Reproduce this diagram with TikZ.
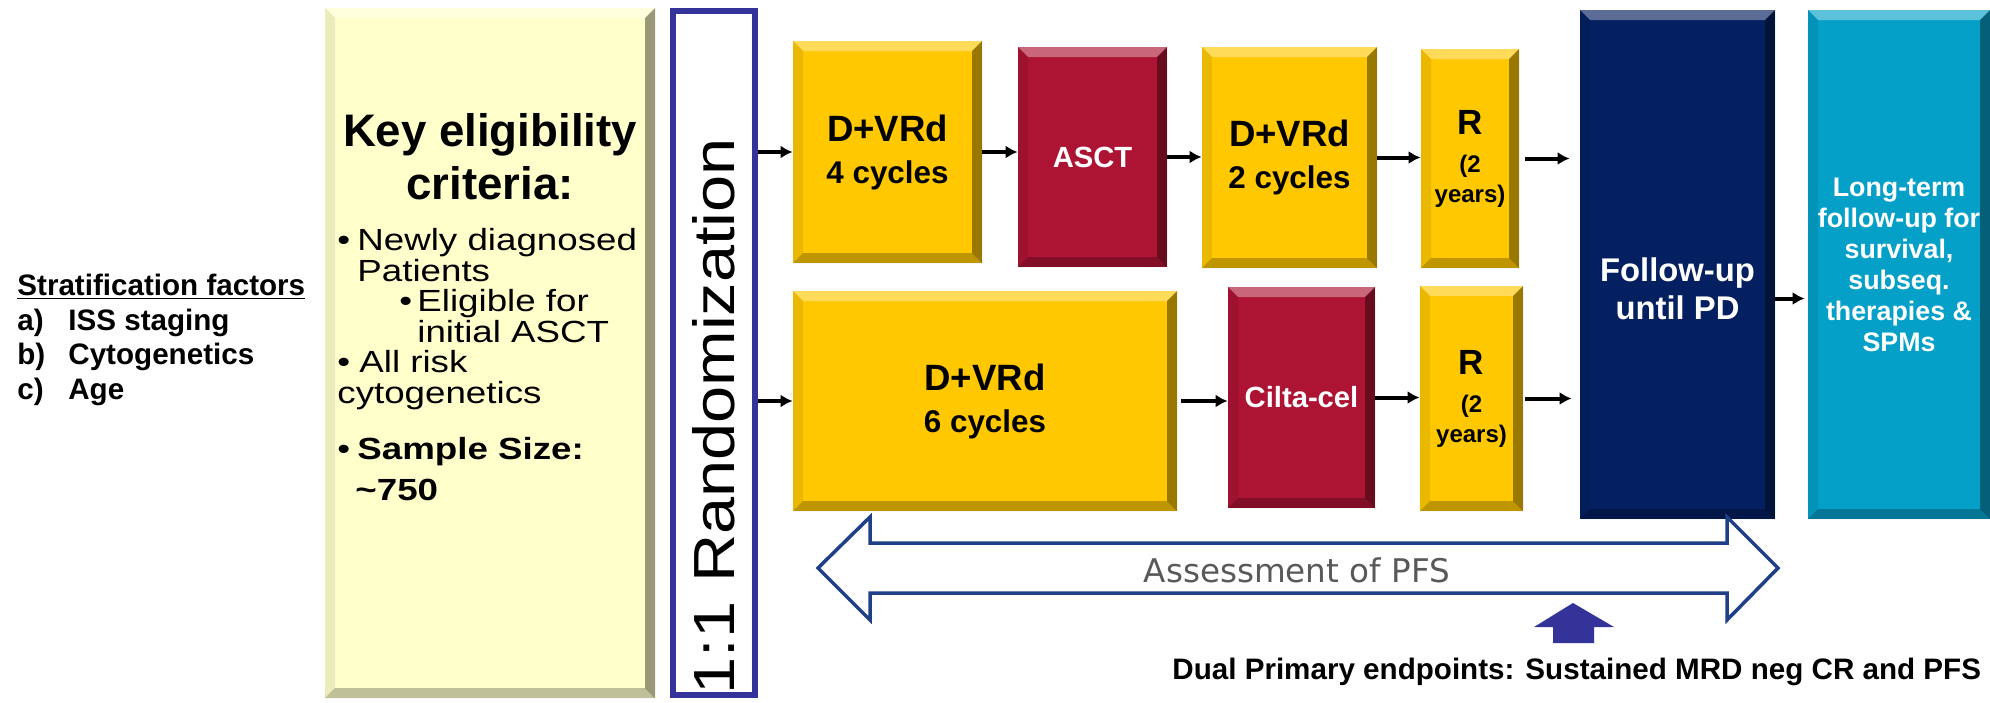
\documentclass[tikz,border=0pt]{standalone}
\usepackage{fontspec}
\setmainfont{Liberation Sans}
\newfontfamily\widesans[FakeStretch=1.2]{Liberation Sans}
\newfontfamily\pfsfont{DejaVu Sans}
\usetikzlibrary{calc,shapes,arrows.meta,positioning}

\definecolor{gold}{RGB}{255,200,0}
\definecolor{crimson}{RGB}{173,20,52}
\definecolor{navy}{RGB}{4,32,96}
\definecolor{teal}{RGB}{5,160,200}
\definecolor{paleyellow}{RGB}{255,255,204}
\definecolor{randblue}{RGB}{51,51,153}
\definecolor{pfsblue}{RGB}{31,63,134}
\definecolor{pfsgray}{RGB}{89,89,89}

\tikzset{
  bevel/.style={path picture={
      \path (path picture bounding box.north west) coordinate (bnw)
            (path picture bounding box.north east) coordinate (bne)
            (path picture bounding box.south west) coordinate (bsw)
            (path picture bounding box.south east) coordinate (bse);
      \fill[white,opacity=.35] (bnw) -- (bne) -- ([shift={(-5pt,-5pt)}]bne) -- ([shift={(5pt,-5pt)}]bnw) -- cycle;
      \fill[black,opacity=.4] (bne) -- (bse) -- ([shift={(-5pt,5pt)}]bse) -- ([shift={(-5pt,-5pt)}]bne) -- cycle;
      \fill[black,opacity=.25] (bsw) -- (bse) -- ([shift={(-5pt,5pt)}]bse) -- ([shift={(5pt,5pt)}]bsw) -- cycle;
      \fill[black,opacity=.08] (bnw) -- (bsw) -- ([shift={(5pt,5pt)}]bsw) -- ([shift={(5pt,-5pt)}]bnw) -- cycle;
    }},
  box/.style={inner sep=0pt, align=center, bevel},
  goldbox/.style={box, fill=gold, font=\bfseries\fontsize{15.7}{21}\selectfont},
  redbox/.style={box, fill=crimson, text=white, font=\bfseries\fontsize{14.6}{18}\selectfont},
  rbox/.style={box, fill=gold, font=\bfseries\fontsize{17.5}{15}\selectfont},
  flow/.style={-{Latex[length=6pt,width=6.5pt]}, line width=2pt},
}

\begin{document}
\begin{tikzpicture}[x=0.5pt,y=-0.5pt]
\useasboundingbox (0,0) rectangle (1990,702);

% stratification
\node[anchor=west, align=left, inner sep=0pt, font=\bfseries\fontsize{14.8}{17.3}\selectfont] (strat) at (17,340)
  {\underline{Stratification factors}\\
   \makebox[25.5pt][l]{a)}ISS staging\\
   \makebox[25.5pt][l]{b)}Cytogenetics\\
   \makebox[25.5pt][l]{c)}Age};

% eligibility panel
\node[box, fill=paleyellow, minimum width=165pt, minimum height=345pt] (elig) at (490,353) {};
\node[align=center, inner sep=0pt, font=\bfseries\fontsize{22.8}{26.5}\selectfont] (eligtitle) at (490,157)
  {Key eligibility\\criteria:};
\node[anchor=north west, align=left, inner sep=0pt, font=\widesans\fontsize{15.3}{15.3}\selectfont] (eliglist) at (337,228)
  {\makebox[10pt][l]{\textbullet}Newly diagnosed\\
   \hspace*{10pt}Patients\\
   \hspace*{31pt}\makebox[9pt][l]{\textbullet}Eligible for\\
   \hspace*{40pt}initial ASCT\\
   \makebox[11pt][l]{\textbullet}All risk\\
   cytogenetics\\[12.7pt]
   \makebox[10pt][l]{\textbullet}\textbf{Sample Size:}\\[5pt]
   \hspace*{9pt}\textbf{\textasciitilde750}};

% randomization bar
\node[draw=randblue, line width=3pt, fill=white, minimum width=41pt, minimum height=342pt, inner sep=0pt] (rand) at (714,353) {};
\node[rotate=90, inner sep=0pt, font=\fontsize{29}{29}\selectfont] (randtxt) at (714,416) {\scalebox{1.15}[1]{1:1 Randomization}};

% arm A
\node[goldbox, minimum width=94.5pt, minimum height=111pt] (d4) at (887.5,152) {{\fontsize{18.3}{21}\selectfont D+VRd}\\4 cycles};
\node[redbox, minimum width=74.5pt, minimum height=110pt] (asct) at (1092.5,157) {ASCT};
\node[goldbox, minimum width=87.5pt, minimum height=110.5pt] (d2) at (1289.5,157.5) {{\fontsize{18.3}{21}\selectfont D+VRd}\\2 cycles};
\node[rbox, minimum width=49pt, minimum height=109.5pt] (r1) at (1470,158.5) {R\\[4pt]{\fontsize{12}{15}\selectfont (2}\\{\fontsize{12}{15}\selectfont years)}};

% arm B
\node[goldbox, minimum width=192pt, minimum height=110pt] (d6) at (985,401) {{\fontsize{18.3}{21}\selectfont D+VRd}\\6 cycles};
\node[redbox, minimum width=73.5pt, minimum height=110.5pt] (cilta) at (1301.5,397.5) {Cilta-cel};
\node[rbox, minimum width=51.5pt, minimum height=112.5pt] (r2) at (1471.5,398.5) {R\\[4pt]{\fontsize{12}{15}\selectfont (2}\\{\fontsize{12}{15}\selectfont years)}};

% follow-up
\node[box, fill=navy, text=white, minimum width=97.5pt, minimum height=254.5pt, font=\bfseries\fontsize{16.4}{19}\selectfont] (fu) at (1677.5,264.5) {\\[17pt]Follow-up\\until PD};
\node[box, fill=teal, text=white, minimum width=91pt, minimum height=254.5pt, font=\bfseries\fontsize{13.4}{15.5}\selectfont] (lt) at (1899,264.5)
  {Long-term\\follow-up for\\survival,\\subseq.\\therapies \&\\SPMs};

% arrows
\draw[flow] (rand.east |- d4.west) -- (d4.west);
\draw[flow] (d4.east) -- (d4.east -| asct.west);
\draw[flow] (asct.east) -- (asct.east -| d2.west);
\draw[flow] (d2.east) -- (d2.east -| r1.west);
\draw[flow, shorten <=3pt, shorten >=5pt] (r1.east) -- (r1.east -| fu.west);
\draw[flow] (rand.east |- d6.west) -- (d6.west);
\draw[flow, shorten <=2pt] (d6.east) -- (d6.east -| cilta.west);
\draw[flow] (cilta.east) -- (cilta.east -| r2.west);
\draw[flow, shorten <=1pt, shorten >=4pt] (r2.east) -- (r2.east -| fu.west);
\draw[flow, shorten >=1.5pt] ([yshift=-17pt]fu.east) -- ([yshift=-17pt]fu.east -| lt.west);

% PFS double arrow
\draw[pfsblue, line width=1.75pt, line join=miter, fill=white]
  (818,568) -- (870,517) -- (870,543) -- (1727,543) -- (1727,517) -- (1778,568)
  -- (1727,620) -- (1727,593) -- (870,593) -- (870,620) -- cycle;
\node[text=pfsgray, font=\pfsfont\fontsize{16.3}{18}\selectfont] (pfs) at (1297,570) {Assessment of PFS};

% endpoints
\fill[randblue] (1573,603) -- (1614,627) -- (1594,627) -- (1594,643) -- (1553,643) -- (1553,627) -- (1534,627) -- cycle;
\node[anchor=west, inner sep=0pt, font=\bfseries\fontsize{14.8}{17}\selectfont] (dual) at (1172,672)
  {Dual Primary endpoints: Sustained MRD neg CR and PFS};
\end{tikzpicture}
\end{document}
